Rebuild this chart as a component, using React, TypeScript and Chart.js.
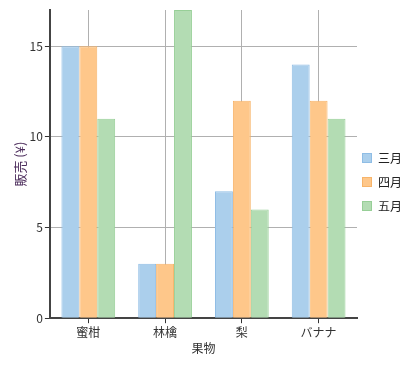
import React, { useEffect, useRef } from "react";
import { Chart, registerables } from "chart.js";

Chart.register(...registerables);

const categories = ["蜜柑", "林檎", "梨", "バナナ"];
const march = [15, 3, 7, 14];
const april = [15, 3, 12, 12];
const may = [11, 17, 6, 11];
const yTicks = [0, 5, 10, 15];
const seriesNames = ["三月", "四月", "五月"];

const FONT = "'Noto Sans CJK JP', 'Noto Sans', sans-serif";

const sideLegend = {
  id: "sideLegend",
  afterDraw(chart: any) {
    const ctx = chart.ctx;
    const area = chart.chartArea;
    const n = chart.data.datasets.length;
    const gap = 24;
    const cy = chart.height / 2 - 1;
    ctx.save();
    ctx.font = `12px ${FONT}`;
    ctx.textBaseline = "middle";
    ctx.textAlign = "left";
    chart.data.datasets.forEach((ds: any, i: number) => {
      const y = cy + (i - (n - 1) / 2) * gap;
      const x = area.right + 5;
      ctx.fillStyle = ds.backgroundColor;
      ctx.fillRect(x, y - 5, 10, 10);
      ctx.strokeStyle = ds.borderColor;
      ctx.lineWidth = 1;
      ctx.strokeRect(x + 0.5, y - 4.5, 9, 9);
      ctx.fillStyle = "#222";
      ctx.fillText(ds.label, x + 16, y);
    });
    ctx.restore();
  },
};

export default function App() {
  const ref = useRef<HTMLCanvasElement | null>(null);
  useEffect(() => {
    if (!ref.current) return;
    const chart = new Chart(ref.current, {
      type: "bar",
      data: {
        labels: categories,
        datasets: [
          { label: seriesNames[0], data: march, backgroundColor: "#abcfec", borderColor: "#8fbde5", borderWidth: 1 },
          { label: seriesNames[1], data: april, backgroundColor: "#fec78a", borderColor: "#f7b46a", borderWidth: 1 },
          { label: seriesNames[2], data: may, backgroundColor: "#b3dcb3", borderColor: "#97cf97", borderWidth: 1 },
        ],
      },
      plugins: [sideLegend],
      options: {
        animation: false,
        responsive: false,
        maintainAspectRatio: false,
        layout: { padding: { top: 2, right: 49, left: 1, bottom: 2 } },
        datasets: { bar: { categoryPercentage: 0.7, barPercentage: 1 } },
        plugins: {
          legend: { display: false },
          tooltip: { enabled: false },
        },
        scales: {
          x: {
            grid: { offset: false, color: "#b0b0b0", tickColor: "#333", tickLength: 5 },
            border: { color: "#444", width: 2 },
            ticks: { color: "#333", font: { family: FONT, size: 12 }, padding: 2 },
            title: { display: true, text: "果物", color: "#333", font: { family: FONT, size: 12 }, padding: { top: 0, bottom: 0 } },
          },
          y: {
            min: 0,
            max: 17,
            afterBuildTicks: (axis: any) => {
              axis.ticks = yTicks.map((v) => ({ value: v }));
            },
            afterFit: (scale: any) => {
              scale.paddingTop = 0;
            },
            grid: { color: "#b0b0b0", tickColor: "#333", tickLength: 5 },
            border: { color: "#444", width: 2 },
            ticks: { color: "#333", font: { family: FONT, size: 12 }, padding: 2 },
            title: { display: true, text: "販売 (¥)", color: "#4a2a5a", font: { family: FONT, size: 13 }, padding: { top: 3, bottom: 0 } },
          },
        },
      },
    });
    return () => chart.destroy();
  }, []);
  return <canvas ref={ref} width={398} height={350} style={{ display: "block" }} />;
}
